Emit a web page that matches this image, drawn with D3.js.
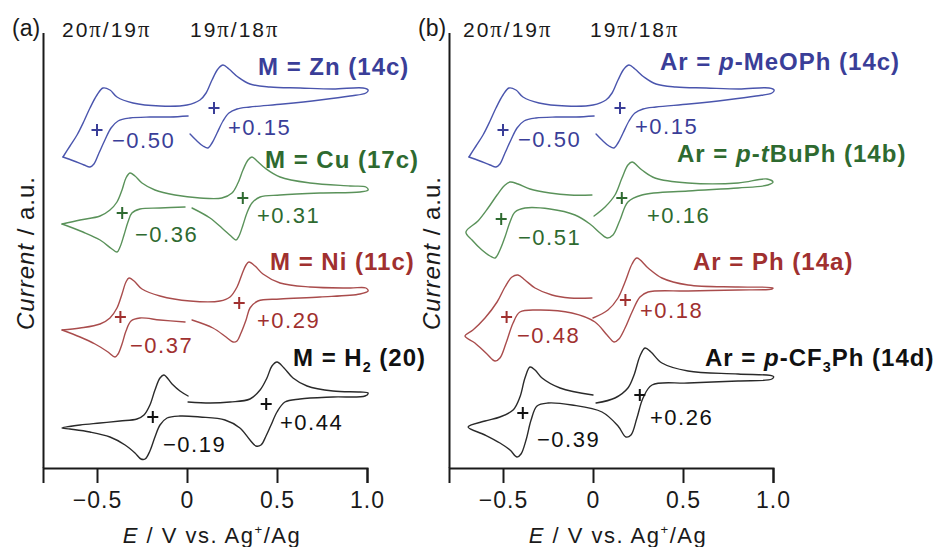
<!DOCTYPE html>
<html><head><meta charset="utf-8">
<script src="https://cdn.jsdelivr.net/npm/d3@7"></script>
<style>
html,body{margin:0;padding:0;background:#fff;}
svg{display:block;font-family:"Liberation Sans",Arial,Helvetica,sans-serif;}
</style></head><body>
<svg id="chart" width="939" height="547"></svg>
<script>
// ---------------- DATA (E in V vs Ag+/Ag, current in a.u. incl. vertical offset) ----------------
const eTicks = [-0.5, 0, 0.5, 1.0];
const tickLabels = ["\u22120.5", "0", "0.5", "1.0"];
const waveHeaders = ["20\u03c0/19\u03c0", "19\u03c0/18\u03c0"];

// 14c (M = Zn / Ar = p-MeOPh) : two traces
const cv14c_main = [[-0.689,31.1],[-0.650,32.2],[-0.611,33.3],[-0.572,34.7],[-0.539,36.0],[-0.500,37.3],[-0.467,38.0],[-0.428,37.8],[-0.389,37.1],[-0.300,36.5],[-0.150,36.2],[0.000,36.3],[0.072,36.8],[0.106,37.5],[0.139,38.8],[0.172,39.9],[0.200,40.3],[0.233,39.9],[0.283,39.1],[0.350,38.4],[0.461,38.1],[0.628,38.0],[0.811,37.9],[0.978,38.0],[1.006,37.8],[0.994,37.5],[0.906,37.2],[0.739,36.8],[0.533,36.4],[0.350,36.1],[0.278,35.9],[0.233,35.5],[0.200,34.7],[0.167,33.5],[0.139,32.5],[0.117,32.0],[0.089,32.2],[0.050,32.8],[0.017,33.4]];
const cv14c_back = [[0.006,35.2],[-0.094,35.1],[-0.206,35.1],[-0.317,35.0],[-0.383,34.7],[-0.422,34.0],[-0.456,32.8],[-0.489,31.5],[-0.517,30.4],[-0.539,30.1],[-0.572,30.3],[-0.628,30.7],[-0.689,31.1]];

// 17c (M = Cu)
const cv17c_main = [[-0.694,24.4],[-0.594,24.8],[-0.483,25.2],[-0.428,25.8],[-0.389,26.6],[-0.361,27.8],[-0.339,29.0],[-0.317,29.5],[-0.289,29.2],[-0.250,28.5],[-0.178,27.8],[-0.067,27.3],[0.072,27.0],[0.194,27.0],[0.250,27.5],[0.283,28.5],[0.311,29.8],[0.339,30.8],[0.361,31.1],[0.389,30.7],[0.433,30.0],[0.517,29.1],[0.683,28.5],[0.906,28.2],[0.994,28.1],[1.006,27.8],[0.961,27.6],[0.739,27.5],[0.517,27.3],[0.406,27.1],[0.361,26.5],[0.333,25.5],[0.311,24.3],[0.289,23.2],[0.272,22.8],[0.244,23.2],[0.194,24.0],[0.128,25.0],[0.028,26.0]];
const cv17c_back = [[-0.011,26.1],[-0.150,26.0],[-0.261,25.9],[-0.306,25.5],[-0.328,24.6],[-0.350,23.3],[-0.372,22.1],[-0.389,21.6],[-0.417,21.9],[-0.483,22.8],[-0.578,23.6],[-0.694,24.4]];

// 11c (M = Ni)
const cv11c_main = [[-0.694,13.8],[-0.594,14.0],[-0.483,14.4],[-0.428,15.0],[-0.389,16.0],[-0.361,17.4],[-0.339,18.6],[-0.322,19.0],[-0.294,18.7],[-0.250,17.9],[-0.150,17.2],[0.017,16.7],[0.183,16.7],[0.239,17.1],[0.278,18.1],[0.306,19.4],[0.328,20.3],[0.344,20.6],[0.378,20.2],[0.422,19.4],[0.517,18.5],[0.683,18.1],[0.906,18.0],[0.994,18.0],[1.006,17.7],[0.961,17.4],[0.739,17.1],[0.517,16.9],[0.394,16.7],[0.350,16.0],[0.328,14.8],[0.300,13.5],[0.278,12.7],[0.256,12.6],[0.217,13.1],[0.144,14.0],[0.028,14.8]];
const cv11c_back = [[-0.011,14.6],[-0.150,14.8],[-0.261,15.0],[-0.311,14.7],[-0.339,13.7],[-0.361,12.4],[-0.383,11.4],[-0.400,11.1],[-0.439,11.6],[-0.511,12.4],[-0.594,13.1],[-0.694,13.8]];

// 20 (M = H2)
const cv20 = [[0.006,7.2],[-0.039,7.7],[-0.083,8.4],[-0.128,9.3],[-0.150,9.0],[-0.178,7.8],[-0.206,6.3],[-0.239,5.3],[-0.278,4.9],[-0.372,4.7],[-0.483,4.5],[-0.594,4.3],[-0.694,4.0],[-0.650,3.9],[-0.539,3.6],[-0.428,3.1],[-0.344,2.3],[-0.289,1.5],[-0.256,0.9],[-0.233,0.9],[-0.206,1.7],[-0.178,3.1],[-0.150,4.3],[-0.111,5.0],[-0.039,5.2],[0.072,5.1],[0.211,4.8],[0.294,4.0],[0.350,2.8],[0.383,2.2],[0.411,2.3],[0.439,3.2],[0.467,4.3],[0.500,5.6],[0.544,6.6],[0.628,6.9],[0.811,7.1],[0.989,7.2],[1.006,7.5],[0.961,7.6],[0.811,7.7],[0.667,8.2],[0.589,9.0],[0.539,10.0],[0.500,10.6],[0.472,10.2],[0.444,9.0],[0.406,7.8],[0.350,6.9],[0.239,6.6],[0.128,6.5],[0.006,6.6]];

// 14b (Ar = p-tBuPh)
const cv14b = [[-0.006,27.3],[-0.128,27.3],[-0.239,27.5],[-0.350,27.9],[-0.417,28.4],[-0.461,28.6],[-0.494,28.2],[-0.533,27.3],[-0.583,26.0],[-0.639,24.7],[-0.706,23.6],[-0.672,22.8],[-0.617,21.8],[-0.572,21.2],[-0.544,21.0],[-0.517,21.8],[-0.489,23.1],[-0.461,24.6],[-0.433,25.6],[-0.378,26.0],[-0.239,25.9],[-0.100,25.3],[-0.017,24.4],[0.039,23.5],[0.078,23.0],[0.111,23.3],[0.150,24.8],[0.194,26.6],[0.272,27.3],[0.528,27.7],[0.806,28.0],[0.972,28.3],[1.000,28.6],[0.967,28.9],[0.806,28.5],[0.528,28.5],[0.344,29.0],[0.272,29.8],[0.217,30.6],[0.194,30.3],[0.161,29.0],[0.122,27.3],[0.067,26.1],[0.006,25.2]];

// 14a (Ar = Ph)
const cv14a = [[-0.006,17.0],[-0.128,17.0],[-0.228,17.3],[-0.322,18.0],[-0.378,18.8],[-0.417,19.3],[-0.450,19.1],[-0.489,18.1],[-0.533,16.6],[-0.600,15.0],[-0.667,13.8],[-0.711,13.2],[-0.656,12.5],[-0.589,11.4],[-0.544,10.7],[-0.517,11.0],[-0.483,12.5],[-0.444,14.5],[-0.406,15.6],[-0.306,15.8],[-0.117,15.5],[0.011,14.6],[0.078,13.3],[0.117,12.6],[0.144,12.9],[0.178,14.0],[0.217,15.6],[0.261,17.1],[0.306,17.6],[0.528,17.7],[0.806,17.8],[0.994,17.9],[1.000,18.0],[0.806,18.1],[0.528,18.3],[0.383,19.0],[0.306,20.0],[0.244,21.0],[0.217,20.4],[0.178,18.6],[0.139,17.0],[0.083,15.8],[0.000,15.0]];

// 14d (Ar = p-CF3Ph)
const cv14d = [[0.000,7.3],[-0.183,8.0],[-0.283,9.0],[-0.322,9.8],[-0.350,10.1],[-0.378,9.0],[-0.406,7.1],[-0.444,5.8],[-0.517,5.1],[-0.600,4.7],[-0.694,4.1],[-0.600,3.3],[-0.517,2.5],[-0.461,1.8],[-0.422,1.1],[-0.400,1.4],[-0.372,2.8],[-0.344,4.8],[-0.311,6.2],[-0.250,6.5],[-0.117,6.3],[0.050,5.6],[0.139,4.2],[0.183,3.1],[0.211,3.3],[0.244,5.0],[0.278,7.0],[0.328,8.3],[0.528,8.5],[0.806,8.7],[0.994,8.9],[1.003,9.15],[0.806,9.4],[0.528,9.7],[0.383,10.5],[0.322,11.6],[0.289,12.0],[0.261,11.2],[0.228,9.3],[0.194,8.0],[0.122,7.0],[0.017,6.5]];

// half-wave potentials (V) and the current level of their "+" markers (a.u.)
const e12_14c = [-0.50, 0.15], markI_14c = [33.8, 36.0];
const e12_17c = [-0.36, 0.31], markI_17c = [25.5, 27.0];
const e12_11c = [-0.37, 0.29], markI_11c = [15.1, 16.5];
const e12_20  = [-0.19, 0.44], markI_20  = [5.1, 6.4];
const e12_14b = [-0.51, 0.16], markI_14b = [24.9, 27.0];
const e12_14a = [-0.48, 0.18], markI_14a = [15.1, 16.8];
const e12_14d = [-0.39, 0.26], markI_14d = [5.5, 7.3];

// ---------------- STYLE / LAYOUT ----------------
const COL = {
  blue:  {text:"#3a3e98", line:"#4a55ad"},
  green: {text:"#2e6a30", line:"#5a925a"},
  red:   {text:"#a0302f", line:"#a94c4c"},
  black: {text:"#111111", line:"#2a2a2a"}
};
const FONT = '"Liberation Sans", Arial, Helvetica, sans-serif';
const SERIF = '"Liberation Serif", "Times New Roman", serif';

const svg = d3.select("#chart");
const y = d3.scaleLinear().domain([0, 42]).range([468, 48]);
const xA = d3.scaleLinear().domain([-0.8, 1.0]).range([43, 367]);
const xB = d3.scaleLinear().domain([-0.8, 1.0]).range([449, 773]);

function fmtE(v){ return (v < 0 ? "\u2212" : "+") + Math.abs(v).toFixed(2); }

function rich(x, yy, parts, o) {
  const t = svg.append("text").attr("x", x).attr("y", yy)
    .attr("font-family", o.family || FONT).attr("font-size", o.size)
    .attr("font-weight", o.weight || "normal").attr("fill", o.fill || "#111")
    .attr("letter-spacing", o.ls || 0);
  if (o.anchor) t.attr("text-anchor", o.anchor);
  if (o.rotate) t.attr("transform", `rotate(-90,${x},${yy})`);
  parts.forEach(p => {
    const s = t.append("tspan").text(p.t);
    if (p.it) s.attr("font-style", "italic");
    if (p.serif) s.attr("font-family", SERIF).attr("font-size", o.size * 1.08);
    if (p.sub) s.attr("font-size", o.size * 0.6).attr("dy", 6);
    if (p.sup) s.attr("font-size", o.size * 0.6).attr("dy", -9);
    if (p.after) s.attr("dy", p.after);
  });
  return t;
}

const line = d3.line().x(d => d[0]).y(d => d[1]).curve(d3.curveCatmullRom.alpha(0.5));

function drawPanel(x, letter, traces, cfg) {
  // axes
  const g = svg.append("g").attr("transform", "translate(0,468)")
    .call(d3.axisBottom(x).tickValues(eTicks).tickFormat((d, i) => tickLabels[i])
      .tickSize(15).tickSizeOuter(15).tickPadding(9));
  g.attr("font-family", FONT).attr("font-size", 23);
  g.select(".domain").attr("stroke", "#1a1a1a").attr("stroke-width", 2);
  g.selectAll(".tick line").attr("stroke", "#1a1a1a").attr("stroke-width", 2);
  g.selectAll(".tick text").attr("fill", "#1a1a1a").attr("letter-spacing", 1);
  const x0 = x.range()[0];
  svg.append("line").attr("x1", x0 + 0.5).attr("x2", x0 + 0.5).attr("y1", 33).attr("y2", 468)
    .attr("stroke", "#1a1a1a").attr("stroke-width", 2);

  // panel letter + wave headers
  rich(x0 - 31, 36, [{t: letter}], {size: 23, fill: "#1a1a1a"});
  rich(x0 + cfg.h1, 37, [{t:"20"},{t:"\u03c0",serif:1},{t:"/19"},{t:"\u03c0",serif:1}], {size: 21, fill: "#1a1a1a", ls: 2});
  rich(x0 + cfg.h2, 37, [{t:"19"},{t:"\u03c0",serif:1},{t:"/18"},{t:"\u03c0",serif:1}], {size: 21, fill: "#1a1a1a", ls: 2});

  // axis titles
  rich(x0 + 169, 543, [{t:"E", it:1},{t:" / V vs. Ag"},{t:"+", sup:1},{t:"/Ag", after: 9}],
       {size: 22, fill: "#1a1a1a", anchor: "middle", ls: 1.5});
  rich(x0 - 9, 253, [{t:"Current", it:1},{t:" / a.u."}],
       {size: 24, fill: "#1a1a1a", anchor: "middle", ls: 1, rotate: true});

  traces.forEach(tr => {
    const c = COL[tr.color];
    tr.segs.forEach(seg => {
      svg.append("path").attr("d", line(seg.map(p => [x(p[0]), y(p[1])])))
        .attr("fill", "none").attr("stroke", c.line).attr("stroke-width", 1.4)
        .attr("stroke-linejoin", "round").attr("stroke-linecap", "round");
    });
    tr.e12.forEach((e, i) => {
      const px = x(e), py = y(tr.markI[i]);
      svg.append("path").attr("d", `M${px - 5.5},${py}H${px + 5.5}M${px},${py - 6}V${py + 6}`)
        .attr("stroke", c.text).attr("stroke-width", 2).attr("fill", "none");
      const L = tr.valPos[i];
      rich(x0 + L[0], L[1], [{t: fmtE(e)}], {size: 22, fill: c.text, ls: 1.5});
    });
    rich(x0 + tr.namePos[0], tr.namePos[1], tr.name, {size: 24, weight: "bold", fill: c.text, ls: tr.nameLs});
  });
}

drawPanel(xA, "(a)", [
  {segs: [cv14c_main, cv14c_back], e12: e12_14c, markI: markI_14c, color: "blue",
   name: [{t:"M = Zn (14c)"}], namePos: [215, 75], nameLs: 1, valPos: [[69,148],[185,135]]},
  {segs: [cv17c_main, cv17c_back], e12: e12_17c, markI: markI_17c, color: "green",
   name: [{t:"M = Cu (17c)"}], namePos: [222, 168], nameLs: 1, valPos: [[92,242],[214,223]]},
  {segs: [cv11c_main, cv11c_back], e12: e12_11c, markI: markI_11c, color: "red",
   name: [{t:"M = Ni (11c)"}], namePos: [227, 270], nameLs: 1, valPos: [[87,353],[214,328]]},
  {segs: [cv20], e12: e12_20, markI: markI_20, color: "black",
   name: [{t:"M = H"},{t:"2", sub:1},{t:" (20)", after:-6}], namePos: [250, 366], nameLs: 1, valPos: [[120,452],[237,430]]}
], {h1: 19, h2: 147});

drawPanel(xB, "(b)", [
  {segs: [cv14c_main, cv14c_back], e12: e12_14c, markI: markI_14c, color: "blue",
   name: [{t:"Ar = "},{t:"p",it:1},{t:"-MeOPh (14c)"}], namePos: [211, 70], nameLs: 1, valPos: [[69,147],[186,134]]},
  {segs: [cv14b], e12: e12_14b, markI: markI_14b, color: "green",
   name: [{t:"Ar = "},{t:"p",it:1},{t:"-"},{t:"t",it:1},{t:"BuPh (14b)"}], namePos: [228, 162], nameLs: 1, valPos: [[69,245],[198,223]]},
  {segs: [cv14a], e12: e12_14a, markI: markI_14a, color: "red",
   name: [{t:"Ar = Ph (14a)"}], namePos: [244, 270], nameLs: 1, valPos: [[68,343],[191,318]]},
  {segs: [cv14d], e12: e12_14d, markI: markI_14d, color: "black",
   name: [{t:"Ar = "},{t:"p",it:1},{t:"-CF"},{t:"3",sub:1},{t:"Ph (14d)", after:-6}], namePos: [256, 366], nameLs: 1, valPos: [[88,447],[201,425]]}
], {h1: 14, h2: 141});
</script></body></html>
